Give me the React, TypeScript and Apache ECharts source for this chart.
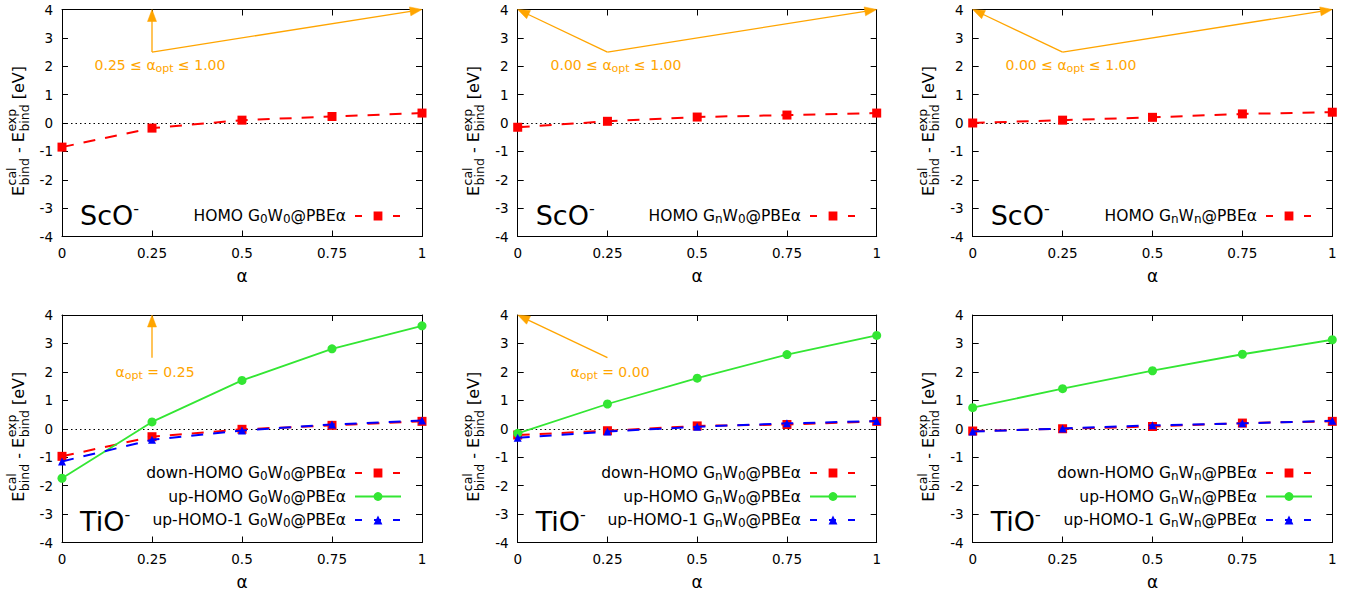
import React, { useEffect, useRef } from 'react';
import * as echarts from 'echarts';

// ---------------- data ----------------
const alpha = [0, 0.25, 0.5, 0.75, 1];

const scoG0W0 = [-0.85, -0.18, 0.1, 0.23, 0.35];
const scoGnW0 = [-0.15, 0.06, 0.21, 0.28, 0.35];
const scoGnWn = [0.0, 0.1, 0.2, 0.32, 0.38];

const tioG0W0Down = [-0.97, -0.28, -0.02, 0.12, 0.26];
const tioG0W0Up = [-1.74, 0.24, 1.7, 2.81, 3.62];
const tioG0W0Up1 = [-1.15, -0.39, -0.06, 0.15, 0.29];

const tioGnW0Down = [-0.22, -0.07, 0.1, 0.15, 0.26];
const tioGnW0Up = [-0.16, 0.87, 1.78, 2.61, 3.28];
const tioGnW0Up1 = [-0.32, -0.1, 0.07, 0.19, 0.27];

const tioGnWnDown = [-0.08, 0.0, 0.08, 0.2, 0.26];
const tioGnWnUp = [0.74, 1.41, 2.04, 2.62, 3.13];
const tioGnWnUp1 = [-0.1, 0.01, 0.12, 0.19, 0.28];

const molecules = ['ScO', 'TiO'];
const methods = ['G_0W_0', 'G_nW_0', 'G_nW_n'];
const xRange = [0, 1];
const xInterval = 0.25;
const yRange = [-4, 4];
const yInterval = 1;

// optimal-alpha annotations: [x from, y from, x to, y to]
const optArrows = [
  [[0.25, 2.5, 0.25, 4], [0.25, 2.5, 1, 4]],
  [[0.25, 2.5, 0, 4], [0.25, 2.5, 1, 4]],
  [[0.25, 2.5, 0, 4], [0.25, 2.5, 1, 4]],
  [[0.25, 2.5, 0.25, 4]],
  [[0.25, 2.5, 0, 4]],
  [],
];
const optNotes = [
  '0.25 ≤ α_{opt} ≤ 1.00',
  '0.00 ≤ α_{opt} ≤ 1.00',
  '0.00 ≤ α_{opt} ≤ 1.00',
  'α_{opt} = 0.25',
  'α_{opt} = 0.00',
  '',
];

const panels = [
  { mol: 0, method: 0, lines: [['HOMO', scoG0W0, 'down']] },
  { mol: 0, method: 1, lines: [['HOMO', scoGnW0, 'down']] },
  { mol: 0, method: 2, lines: [['HOMO', scoGnWn, 'down']] },
  { mol: 1, method: 0, lines: [['down-HOMO', tioG0W0Down, 'down'], ['up-HOMO', tioG0W0Up, 'up'], ['up-HOMO-1', tioG0W0Up1, 'up1']] },
  { mol: 1, method: 1, lines: [['down-HOMO', tioGnW0Down, 'down'], ['up-HOMO', tioGnW0Up, 'up'], ['up-HOMO-1', tioGnW0Up1, 'up1']] },
  { mol: 1, method: 2, lines: [['down-HOMO', tioGnWnDown, 'down'], ['up-HOMO', tioGnWnUp, 'up'], ['up-HOMO-1', tioGnWnUp1, 'up1']] },
] as { mol: number; method: number; lines: [string, number[], string][] }[];

// ---------------- layout / style ----------------
const FONT = "'DejaVu Sans', 'Liberation Sans', sans-serif";
const RED = '#ff0000';
const GREEN = '#33e633';
const BLUE = '#0000ff';
const ORANGE = '#ffa500';
const CW = 1358;
const colLeft = [62, 517.7, 972.7];
const colWidth = [360, 359, 359.6];
const rowTop = [9.5, 315];
const rowHeight = [227, 227.5];
const legendRight = [402, 857, 1313];
const legendTop = [208, 465];
const molY = [215, 521];
const notePos = [[160, 65], [616, 65], [1071, 65], [155, 372], [610, 372]];

const styles: Record<string, any> = {
  down: { symbol: 'rect', size: 9, color: RED, width: 2, type: [12, 10], legendType: [7, 12] },
  up: { symbol: 'circle', size: 9, color: GREEN, width: 1.8, type: 'solid', legendType: 'solid' },
  up1: { symbol: 'triangle', size: 8, color: BLUE, width: 2, type: [12, 10], legendType: [7, 12] },
};

function richify(s: string, n = 'n', sub = 's', last = 'n') {
  const parts = s.split(/(_\{[^}]*\}|_\w)/).filter((p) => p.length > 0);
  return parts
    .map((p, k) => {
      if (p.startsWith('_{')) return `{${sub}|${p.slice(2, -1)}}`;
      if (p.startsWith('_')) return `{${sub}|${p.slice(1)}}`;
      return `{${k === parts.length - 1 ? last : n}|${p}}`;
    })
    .join('');
}

let measureCtx: CanvasRenderingContext2D | null = null;
function mw(t: string, size: number) {
  if (!measureCtx) measureCtx = document.createElement('canvas').getContext('2d');
  measureCtx!.font = `${size}px 'DejaVu Sans'`;
  return measureCtx!.measureText(t).width;
}

function txt(text: string, x: number, y: number, size: number) {
  return {
    type: 'text',
    x,
    y,
    silent: true,
    style: { text, fontSize: size, fontFamily: FONT, fill: '#000', align: 'left', verticalAlign: 'middle', textAlign: 'left', textVerticalAlign: 'middle' },
  };
}

function yTitle(cx: number, cy: number) {
  const F = 16;
  const S = 12.5;
  const parts: any[] = [];
  let x = 0;
  const wSp = mw(' ', F);
  parts.push(txt('E', x, 0, F));
  x += mw('E', F) + 0.5;
  parts.push(txt('cal', x, -6.5, S));
  parts.push(txt('bind', x, 6, S));
  x += Math.max(mw('cal', S), mw('bind', S)) + wSp;
  parts.push(txt('-', x, 0, F));
  x += mw('-', F) + wSp;
  parts.push(txt('E', x, 0, F));
  x += mw('E', F) + 0.5;
  parts.push(txt('exp', x, -6.5, S));
  parts.push(txt('bind', x, 6, S));
  x += Math.max(mw('exp', S), mw('bind', S)) + wSp;
  parts.push(txt('[eV]', x, 0, F));
  x += mw('[eV]', F);
  return { type: 'group', x: cx, y: cy + x / 2, rotation: Math.PI / 2, silent: true, children: parts };
}

function arrowItem(params: any, api: any) {
  const p1 = api.coord([api.value(0), api.value(1)]);
  const p2 = api.coord([api.value(2), api.value(3)]);
  const dx = p2[0] - p1[0];
  const dy = p2[1] - p1[1];
  const len = Math.hypot(dx, dy) || 1;
  const ux = dx / len;
  const uy = dy / len;
  const L = 12;
  const Wh = 4.5;
  const bx = p2[0] - ux * L;
  const by = p2[1] - uy * L;
  return {
    type: 'group',
    children: [
      { type: 'line', shape: { x1: p1[0], y1: p1[1], x2: bx + ux * 2, y2: by + uy * 2 }, style: { stroke: ORANGE, lineWidth: 1.3 } },
      {
        type: 'polygon',
        shape: { points: [[p2[0], p2[1]], [bx - uy * Wh, by + ux * Wh], [bx + uy * Wh, by - ux * Wh]] },
        style: { fill: ORANGE, stroke: ORANGE, lineWidth: 0.5 },
      },
    ],
  };
}

function buildOption() {
  const grid: any[] = [];
  const xAxis: any[] = [];
  const yAxis: any[] = [];
  const series: any[] = [];
  const legend: any[] = [];
  const graphic: any[] = [];

  const axisLine = { show: true, onZero: false, lineStyle: { color: '#000', width: 1 } };
  const axisTick = { show: true, inside: true, length: 6, lineStyle: { color: '#000', width: 1 } };
  const labelStyle = { fontSize: 13.5, fontFamily: FONT, color: '#000' };

  panels.forEach((p, i) => {
    const r = Math.floor(i / 3);
    const c = i % 3;
    grid.push({ left: colLeft[c], top: rowTop[r], width: colWidth[c], height: rowHeight[r], containLabel: false });

    const xBase = { gridIndex: i, type: 'value', min: xRange[0], max: xRange[1], interval: xInterval, splitLine: { show: false }, axisLine, axisTick };
    xAxis.push({
      ...xBase,
      position: 'bottom',
      axisLabel: { ...labelStyle, margin: 9 },
      name: 'α',
      nameLocation: 'middle',
      nameGap: 31,
      nameTextStyle: { fontSize: 17, fontFamily: FONT, color: '#000' },
    });
    xAxis.push({ ...xBase, position: 'top', axisLabel: { show: false } });

    const yBase = { gridIndex: i, type: 'value', min: yRange[0], max: yRange[1], interval: yInterval, splitLine: { show: false }, axisLine, axisTick };
    yAxis.push({ ...yBase, position: 'left', axisLabel: { ...labelStyle, margin: 9 } });
    yAxis.push({ ...yBase, position: 'right', axisLabel: { show: false } });

    const legendData: any[] = [];
    p.lines.forEach(([label, vals, kind], k) => {
      const st = styles[kind];
      const name = `${label} ${methods[p.method]}@PBEα`;
      legendData.push({ name, lineStyle: { type: st.legendType, width: st.width, color: st.color } });
      const s: any = {
        type: 'line',
        name,
        xAxisIndex: 2 * i,
        yAxisIndex: 2 * i,
        data: alpha.map((a, j) => [a, vals[j]]),
        symbol: st.symbol,
        symbolSize: st.size,
        showSymbol: true,
        silent: true,
        itemStyle: { color: st.color },
        lineStyle: { color: st.color, width: st.width, type: st.type },
        emphasis: { disabled: true },
        z: 3 + k,
      };
      if (k === 0) {
        s.markLine = {
          silent: true,
          symbol: ['none', 'none'],
          label: { show: false },
          lineStyle: { color: '#000', width: 1, type: [1.5, 3] },
          emphasis: { disabled: true },
          data: [{ yAxis: 0 }],
          z: 1,
        };
      }
      series.push(s);
    });

    if (optArrows[i].length) {
      series.push({
        type: 'custom',
        xAxisIndex: 2 * i,
        yAxisIndex: 2 * i,
        data: optArrows[i],
        renderItem: arrowItem,
        silent: true,
        clip: false,
        z: 6,
      });
    }

    legend.push({
      orient: 'vertical',
      align: 'right',
      right: CW - legendRight[c],
      top: legendTop[r],
      padding: 0,
      itemWidth: 46,
      itemHeight: 11,
      itemGap: 6.5,
      selectedMode: false,
      data: legendData,
      formatter: (nm: string) => richify(nm, 'n', 's', 'e'),
      textStyle: {
        fontFamily: FONT,
        fontSize: 15.5,
        color: '#000',
        rich: {
          n: { fontFamily: FONT, fontSize: 15.5, lineHeight: 18, color: '#000' },
          e: { fontFamily: FONT, fontSize: 15.5, lineHeight: 18, color: '#000', padding: [0, 4, 0, 0] },
          s: { fontFamily: FONT, fontSize: 12, lineHeight: 10, verticalAlign: 'bottom', color: '#000' },
        },
      },
    });

    // y-axis title
    graphic.push(yTitle(colLeft[c] - 44, rowTop[r] + rowHeight[r] / 2 + 8));

    // molecule label
    graphic.push({
      type: 'text',
      x: colLeft[c] + 18,
      y: molY[r],
      silent: true,
      style: {
        text: `{m|${molecules[p.mol]}}{u|-}`,
        align: 'left',
        verticalAlign: 'middle',
        rich: {
          m: { fontFamily: FONT, fontSize: 27, lineHeight: 30, fill: '#000', color: '#000' },
          u: { fontFamily: FONT, fontSize: 16, lineHeight: 12, verticalAlign: 'top', fill: '#000', color: '#000' },
        },
      },
    });

    if (optNotes[i]) {
      graphic.push({
        type: 'text',
        x: notePos[i][0],
        y: notePos[i][1],
        silent: true,
        style: {
          text: richify(optNotes[i]),
          align: 'center',
          verticalAlign: 'middle',
          rich: {
            n: { fontFamily: FONT, fontSize: 14, lineHeight: 17, fill: ORANGE, color: ORANGE },
            s: { fontFamily: FONT, fontSize: 11, lineHeight: 9, verticalAlign: 'bottom', fill: ORANGE, color: ORANGE },
          },
        },
      });
    }
  });

  return {
    animation: false,
    backgroundColor: '#ffffff',
    textStyle: { fontFamily: FONT },
    grid,
    xAxis,
    yAxis,
    series,
    legend,
    graphic,
  };
}

export default function App() {
  const ref = useRef<HTMLDivElement>(null);
  useEffect(() => {
    document.body.style.margin = '0';
    const chart = echarts.init(ref.current as HTMLDivElement, null, { renderer: 'svg' });
    chart.setOption(buildOption() as any);
    return () => {
      chart.dispose();
    };
  }, []);
  return <div ref={ref} style={{ width: CW, height: 593 }} />;
}
